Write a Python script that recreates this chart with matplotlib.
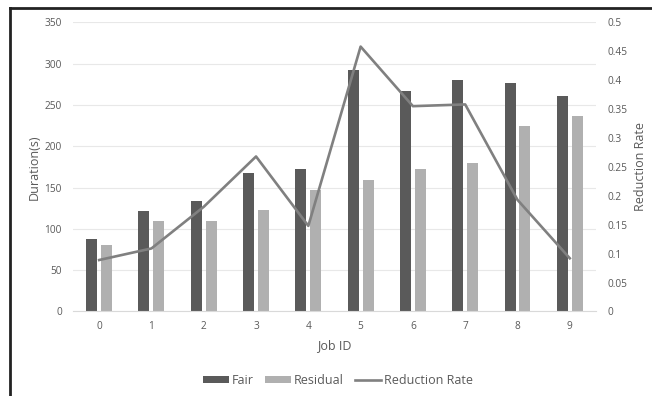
import matplotlib.pyplot as plt
from matplotlib.lines import Line2D
import numpy as np

# values
job_ids = ["0", "1", "2", "3", "4", "5", "6", "7", "8", "9"]
fair = [88, 122, 134, 168, 173, 292, 267, 280, 277, 261]
residual = [80, 109, 110, 123, 147, 159, 172, 180, 225, 237]
reduction_rate = [0.089, 0.109, 0.181, 0.268, 0.148, 0.458, 0.355, 0.358, 0.193, 0.092]

TEXT = "#595959"
FAIR_C = "#5a5a5a"
RES_C = "#b0b0b0"
LINE_C = "#808080"
GRID_C = "#e8e8e8"

plt.rcParams["font.family"] = ["Open Sans", "DejaVu Sans"]

fig = plt.figure(figsize=(6.52, 3.96), dpi=100)
ax = fig.add_axes([0.112, 0.2134, 0.802, 0.7303])
ax2 = ax.twinx()

x = np.arange(len(job_ids))
w = 0.21
ax.bar(x - 0.143, fair, width=w, color=FAIR_C, label="Fair", zorder=2)
ax.bar(x + 0.143, residual, width=w, color=RES_C, label="Residual", zorder=2)
ax2.plot(x, reduction_rate, color=LINE_C, lw=1.9, label="Reduction Rate", zorder=3)

ax.set_xlim(-0.5, len(job_ids) - 0.5)
ax.set_ylim(0, 350)
ax.set_yticks(range(0, 351, 50))
ax2.set_ylim(0, 0.5)
ax2.set_yticks([0, 0.05, 0.1, 0.15, 0.2, 0.25, 0.3, 0.35, 0.4, 0.45, 0.5])
ax2.set_yticklabels(["0", "0.05", "0.1", "0.15", "0.2", "0.25", "0.3", "0.35",
                     "0.4", "0.45", "0.5"])
ax.set_xticks(x)
ax.set_xticklabels(job_ids)

ax.yaxis.grid(True, color=GRID_C, lw=0.8, zorder=0)
ax.set_axisbelow(True)
for a in (ax, ax2):
    for s in a.spines.values():
        s.set_visible(False)
    a.tick_params(length=0, labelsize=7.3, colors=TEXT)
ax.spines["bottom"].set_visible(True)
ax.spines["bottom"].set_color("#d9d9d9")
ax.tick_params(axis="y", pad=8)
ax2.tick_params(axis="y", pad=8)
ax.tick_params(axis="x", pad=7)

ax.set_xlabel("Job ID", fontsize=9, color=TEXT, labelpad=5)
ax.set_ylabel("Duration(s)", fontsize=9, color=TEXT, labelpad=3)
ax2.set_ylabel("Reduction Rate", fontsize=9, color=TEXT, labelpad=5)

h1, l1 = ax.get_legend_handles_labels()
h2, l2 = ax2.get_legend_handles_labels()
fig.legend(h1 + h2, l1 + l2, loc="center", bbox_to_anchor=(0.518, 0.039),
           ncol=3, frameon=False, fontsize=9, labelcolor=TEXT,
           handlelength=2.1, handleheight=0.5, handletextpad=0.2,
           columnspacing=0.9)

# frame edges visible at top and left of the reference
fig.add_artist(Line2D([10 / 652, 1], [1 - 8 / 396, 1 - 8 / 396],
                      transform=fig.transFigure, color="#222222", lw=2))
fig.add_artist(Line2D([10 / 652, 10 / 652], [0, 1 - 8 / 396],
                      transform=fig.transFigure, color="#222222", lw=2))

fig.savefig("out.png", dpi=100)
